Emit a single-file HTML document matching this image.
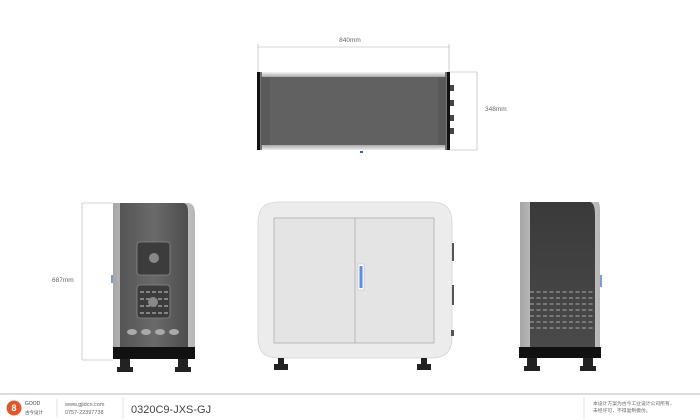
<!DOCTYPE html>
<html><head><meta charset="utf-8"><style>
html,body{margin:0;padding:0;background:#fff;width:700px;height:420px;overflow:hidden}
</style></head><body>
<svg width="700" height="420" viewBox="0 0 700 420" xmlns="http://www.w3.org/2000/svg" font-family="Liberation Sans, sans-serif">
<defs>
<linearGradient id="sil" x1="0" y1="0" x2="0" y2="1"><stop offset="0" stop-color="#f4f4f4"/><stop offset="1" stop-color="#a8a8a8"/></linearGradient>
<linearGradient id="sil2" x1="0" y1="0" x2="0" y2="1"><stop offset="0" stop-color="#a8a8a8"/><stop offset="1" stop-color="#eeeeee"/></linearGradient>
<linearGradient id="silh" x1="0" y1="0" x2="1" y2="0"><stop offset="0" stop-color="#a5a5a5"/><stop offset=".5" stop-color="#ececec"/><stop offset="1" stop-color="#b5b5b5"/></linearGradient>
<linearGradient id="dk" x1="0" y1="0" x2="1" y2="0"><stop offset="0" stop-color="#555"/><stop offset=".5" stop-color="#6a6a6a"/><stop offset="1" stop-color="#4d4d4d"/></linearGradient>
<linearGradient id="dkr" x1="0" y1="0" x2="0" y2="1"><stop offset="0" stop-color="#3a3a3a"/><stop offset="1" stop-color="#4a4a4a"/></linearGradient>
</defs>
<!-- TOP VIEW -->
<g stroke="#aaa" stroke-width="0.6" fill="none">
<line x1="258" y1="47" x2="449" y2="47"/><line x1="258" y1="44" x2="258" y2="72"/><line x1="449" y1="44" x2="449" y2="72"/>
<line x1="449" y1="72" x2="477" y2="72"/><line x1="449" y1="150" x2="477" y2="150"/><line x1="477" y1="72" x2="477" y2="150"/>
</g>
<text x="350" y="42" font-size="6.5" fill="#666" text-anchor="middle">840mm</text>
<text x="485" y="111" font-size="6.5" fill="#666">348mm</text>
<rect x="258" y="72" width="191" height="78" fill="#777"/>
<rect x="262" y="72" width="183" height="5" fill="url(#sil)"/>
<rect x="262" y="145" width="183" height="5" fill="url(#sil2)"/>
<rect x="261" y="77" width="185" height="68" fill="#5a5a5a"/>
<rect x="270" y="77" width="168" height="68" fill="#616161"/>
<rect x="257" y="72" width="3" height="78" fill="#111"/>
<rect x="447" y="72" width="3" height="78" fill="#111"/>
<g fill="#444"><rect x="450" y="85" width="4" height="6"/><rect x="450" y="100" width="4" height="6"/><rect x="450" y="115" width="4" height="6"/><rect x="450" y="128" width="4" height="6"/></g>
<rect x="360" y="151" width="3" height="2" fill="#3a5fb0"/>
<!-- LEFT VIEW -->
<g stroke="#aaa" stroke-width="0.6" fill="none"><line x1="82" y1="203" x2="82" y2="360"/><line x1="82" y1="203" x2="113" y2="203"/><line x1="82" y1="360" x2="113" y2="360"/></g>
<text x="52" y="282" font-size="6.5" fill="#666">687mm</text>
<path d="M113 203 H188 Q195 203 195 215 V348 H113 Z" fill="url(#silh)"/>
<path d="M120 203 H183 Q188 203 188 212 V348 H120 Z" fill="url(#dk)"/>
<rect x="113" y="347" width="82" height="12" fill="#111"/>
<path d="M120 359 h10 v8 h3 v5 h-16 v-5 h3z M178 359 h10 v8 h3 v5 h-16 v-5 h3z" fill="#222"/>
<rect x="137" y="242" width="33" height="33" rx="3" fill="#3c3c3c" stroke="#888" stroke-width=".8"/>
<circle cx="154" cy="258" r="5" fill="#888"/>
<rect x="137" y="285" width="33" height="33" rx="3" fill="#3c3c3c" stroke="#888" stroke-width=".8"/>
<g stroke="#ccc" stroke-width="1" stroke-dasharray="4 2"><line x1="140" y1="292" x2="168" y2="292"/><line x1="140" y1="299" x2="168" y2="299"/><line x1="140" y1="306" x2="168" y2="306"/><line x1="140" y1="313" x2="168" y2="313"/></g>
<circle cx="153" cy="302" r="5" fill="#888"/>
<g fill="#aaa"><ellipse cx="132" cy="332" rx="5" ry="3"/><ellipse cx="146" cy="332" rx="5" ry="3"/><ellipse cx="160" cy="332" rx="5" ry="3"/><ellipse cx="174" cy="332" rx="5" ry="3"/></g>
<rect x="111" y="275" width="2" height="8" fill="#7a9ed8"/>
<!-- FRONT VIEW -->
<path d="M278 202 H432 Q452 202 452 222 V338 Q452 358 432 358 H278 Q258 358 258 338 V222 Q258 202 278 202 Z" fill="#ececec" stroke="#d4d4d4" stroke-width=".8"/>
<rect x="274" y="218" width="160" height="125" fill="#e4e4e4" stroke="#9a9a9a" stroke-width=".6"/>
<line x1="355" y1="218" x2="355" y2="343" stroke="#9a9a9a" stroke-width=".6"/>
<rect x="358" y="264" width="6" height="26" fill="#fff" stroke="#bbb" stroke-width=".5"/>
<rect x="359.5" y="266" width="3" height="22" fill="#5b8ee0"/>
<g fill="#555"><rect x="452" y="243" width="2" height="18"/><rect x="452" y="285" width="2" height="20"/><rect x="451" y="330" width="3" height="6"/></g>
<path d="M278 358 h6 v6 h4 v6 h-14 v-6 h4z M421 358 h6 v6 h4 v6 h-14 v-6 h4z" fill="#222"/>
<!-- RIGHT VIEW -->
<path d="M520 202 H598 Q600 202 600 212 V348 H520 Z" fill="url(#silh)"/>
<path d="M530 202 H590 Q595 203 595 215 V348 H530 Z" fill="url(#dkr)"/>
<g stroke="#aaa" stroke-width=".9" stroke-dasharray="4 2.5">
<line x1="530" y1="292" x2="595" y2="292"/><line x1="530" y1="298" x2="595" y2="298"/><line x1="530" y1="304" x2="595" y2="304"/><line x1="530" y1="310" x2="595" y2="310"/><line x1="530" y1="316" x2="595" y2="316"/><line x1="530" y1="322" x2="595" y2="322"/><line x1="530" y1="328" x2="595" y2="328"/></g>
<rect x="600" y="275" width="2" height="12" fill="#7a9ed8"/>
<rect x="519" y="347" width="82" height="11" fill="#111"/>
<path d="M527 358 h10 v8 h3 v5 h-16 v-5 h3z M583 358 h10 v8 h3 v5 h-16 v-5 h3z" fill="#222"/>
<!-- FOOTER -->
<rect x="0" y="393" width="700" height="2" fill="#dcdcdc"/>
<circle cx="14" cy="408" r="7.5" fill="#e2572a"/>
<text x="14" y="411" font-size="9" fill="#fff" text-anchor="middle" font-weight="bold">8</text>
<text x="25" y="405" font-size="5" fill="#444">GOOD</text>
<text x="25" y="414" font-size="4.5" fill="#444" font-family="Liberation Sans, Noto Sans CJK SC, sans-serif">古今设计</text>
<line x1="57" y1="399" x2="57" y2="417" stroke="#ccc" stroke-width=".6"/>
<text x="65" y="406" font-size="5.5" fill="#666">www.gjidcn.com</text>
<text x="65" y="414" font-size="5.5" fill="#666">0757-22397738</text>
<line x1="123" y1="397" x2="123" y2="419" stroke="#ccc" stroke-width=".6"/>
<text x="131" y="413" font-size="11" fill="#444">0320C9-JXS-GJ</text>
<line x1="584" y1="397" x2="584" y2="419" stroke="#ccc" stroke-width=".6"/>
<text x="593" y="405" font-size="4.8" fill="#666" font-family="Liberation Sans, Noto Sans CJK SC, sans-serif">本设计方案为古今工业设计公司所有，</text>
<text x="593" y="412" font-size="4.8" fill="#666" font-family="Liberation Sans, Noto Sans CJK SC, sans-serif">未经许可，不得复制模仿。</text>
</svg>
</body></html>
